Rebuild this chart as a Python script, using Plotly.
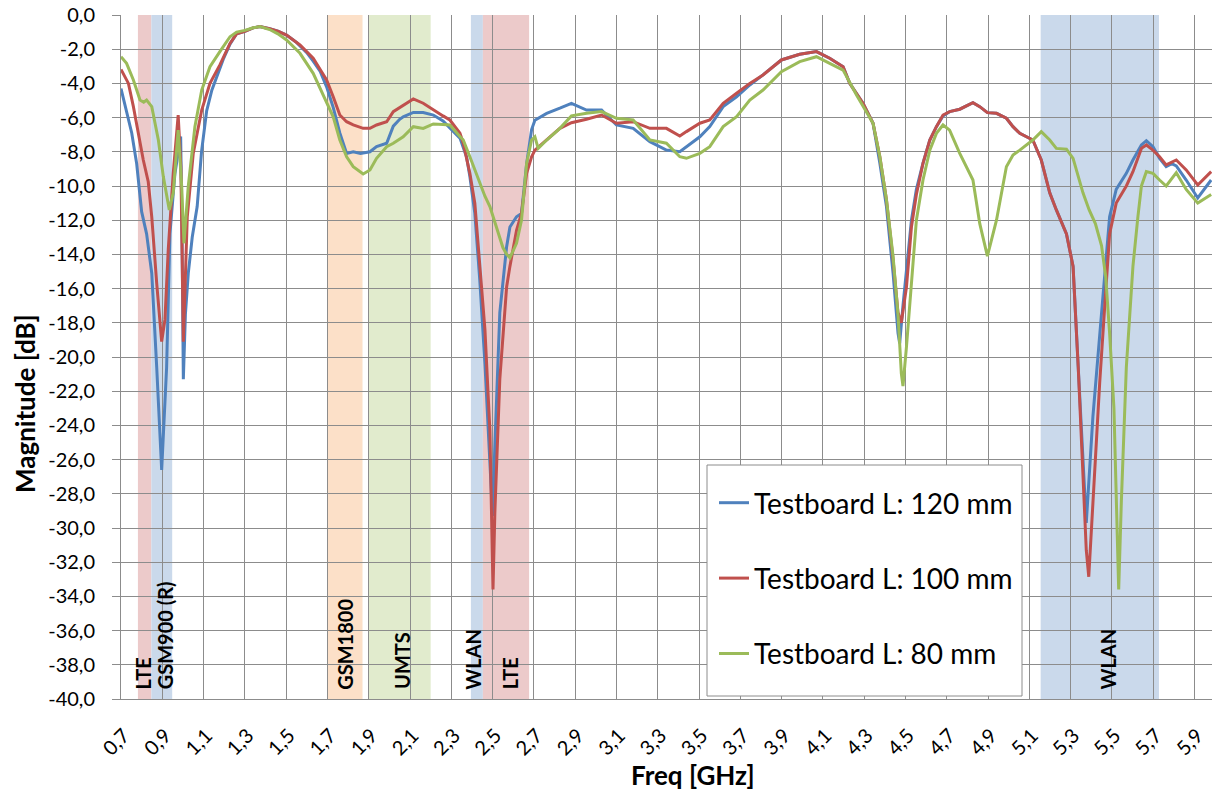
import plotly.graph_objects as go

# ---------------- data ----------------
freq_120 = [0.700, 0.725, 0.752, 0.776, 0.800, 0.824, 0.849, 0.873, 0.897, 0.921, 0.937, 0.961, 0.980, 0.989,
            0.995, 1.002, 1.012, 1.026, 1.045, 1.069, 1.090, 1.115, 1.140, 1.163, 1.195, 1.228, 1.260, 1.300,
            1.340, 1.373, 1.420, 1.460, 1.502, 1.550, 1.600, 1.631, 1.665, 1.696, 1.728, 1.760, 1.793, 1.825,
            1.860, 1.906, 1.938, 1.987, 2.019, 2.050, 2.067, 2.116, 2.164, 2.213, 2.260, 2.293, 2.342, 2.374,
            2.390, 2.414, 2.438, 2.463, 2.487, 2.500, 2.511, 2.535, 2.568, 2.584, 2.616, 2.640, 2.665, 2.689,
            2.705, 2.762, 2.826, 2.882, 2.955, 3.028, 3.100, 3.181, 3.262, 3.342, 3.407, 3.439, 3.504, 3.552,
            3.617, 3.682, 3.746, 3.810, 3.899, 3.988, 4.069, 4.133, 4.198, 4.230, 4.263, 4.295, 4.343, 4.376,
            4.408, 4.440, 4.464, 4.472, 4.488, 4.505, 4.529, 4.553, 4.585, 4.618, 4.650, 4.682, 4.714, 4.763,
            4.827, 4.860, 4.897, 4.941, 4.989, 5.021, 5.054, 5.117, 5.158, 5.199, 5.231, 5.280, 5.312, 5.337,
            5.360, 5.376, 5.408, 5.441, 5.465, 5.489, 5.521, 5.546, 5.570, 5.602, 5.643, 5.667, 5.699, 5.731,
            5.763, 5.790, 5.812, 5.860, 5.916, 5.981]
mag_120 = [-4.3, -5.6, -6.9, -8.7, -11.5, -12.8, -15.1, -20.6, -26.6, -20.6, -12.8, -9.3, -7.6, -7.1,
           -12.0, -21.3, -17.5, -15.1, -13.0, -11.2, -8.0, -5.6, -4.4, -3.6, -2.6, -1.7, -1.1, -0.95,
           -0.75, -0.68, -0.8, -0.95, -1.17, -1.6, -2.2, -2.7, -3.3, -4.2, -5.4, -6.9, -8.1, -8.0,
           -8.1, -8.0, -7.7, -7.5, -6.5, -6.1, -5.95, -5.7, -5.7, -5.85, -6.2, -6.6, -7.2, -8.3,
           -9.45, -11.6, -15.5, -20.4, -26.2, -29.3, -25.2, -17.4, -13.55, -12.4, -11.8, -11.6, -8.7, -6.7,
           -6.15, -5.75, -5.45, -5.17, -5.56, -5.56, -6.43, -6.63, -7.41, -7.9, -7.99, -7.7, -7.12, -6.53,
           -5.36, -4.78, -4.09, -3.5, -2.63, -2.3, -2.14, -2.53, -3.02, -4.0, -4.6, -5.17, -6.33, -8.67,
           -11.2, -15.1, -18.6, -19.2, -17.0, -14.9, -12.0, -10.2, -8.67, -7.31, -6.53, -5.9, -5.65, -5.51,
           -5.13, -5.36, -5.71, -5.75, -6.04, -6.53, -6.92, -7.31, -8.48, -10.4, -11.4, -12.8, -14.7, -20.6,
           -26.4, -29.7, -23.5, -18.6, -15.1, -11.8, -10.2, -9.75, -9.26, -8.48, -7.6, -7.35, -7.7, -8.38,
           -8.87, -8.7, -8.83, -9.65, -10.7, -9.65]

freq_100 = [0.700, 0.736, 0.760, 0.784, 0.808, 0.832, 0.849, 0.873, 0.897, 0.913, 0.929, 0.953, 0.970, 0.977,
            0.990, 1.002, 1.021, 1.050, 1.091, 1.131, 1.179, 1.228, 1.260, 1.300, 1.340, 1.373, 1.420, 1.460,
            1.502, 1.567, 1.631, 1.696, 1.728, 1.760, 1.793, 1.825, 1.873, 1.906, 1.938, 1.987, 2.019, 2.067,
            2.116, 2.164, 2.213, 2.260, 2.293, 2.342, 2.358, 2.390, 2.414, 2.438, 2.463, 2.487, 2.502, 2.511,
            2.535, 2.568, 2.584, 2.616, 2.640, 2.665, 2.689, 2.705, 2.762, 2.826, 2.882, 2.955, 3.028, 3.100,
            3.181, 3.262, 3.342, 3.407, 3.439, 3.504, 3.552, 3.617, 3.682, 3.746, 3.810, 3.899, 3.988, 4.069,
            4.133, 4.198, 4.230, 4.263, 4.295, 4.343, 4.376, 4.408, 4.440, 4.464, 4.480, 4.505, 4.529, 4.553,
            4.585, 4.618, 4.650, 4.682, 4.714, 4.763, 4.827, 4.860, 4.897, 4.941, 4.989, 5.021, 5.054, 5.117,
            5.158, 5.199, 5.231, 5.280, 5.312, 5.337, 5.360, 5.376, 5.388, 5.408, 5.441, 5.465, 5.489, 5.521,
            5.546, 5.570, 5.602, 5.643, 5.667, 5.699, 5.731, 5.763, 5.812, 5.860, 5.916, 5.981]
mag_100 = [-3.18, -4.0, -5.36, -6.92, -8.48, -9.75, -11.8, -15.7, -19.1, -17.8, -13.7, -9.26, -7.0, -5.85,
           -8.87, -19.1, -11.8, -8.09, -5.56, -4.0, -2.92, -1.66, -1.1, -0.95, -0.75, -0.68, -0.8, -0.95,
           -1.17, -1.75, -2.53, -3.8, -4.78, -5.85, -6.24, -6.43, -6.63, -6.63, -6.43, -6.24, -5.65, -5.26,
           -4.91, -5.16, -5.56, -5.9, -6.14, -6.92, -7.5, -9.26, -11.0, -14.5, -18.4, -24.3, -33.6, -29.1,
           -21.3, -15.9, -14.7, -12.6, -11.6, -9.26, -8.29, -7.9, -7.31, -6.63, -6.3, -6.1, -5.85, -6.33,
           -6.24, -6.63, -6.63, -7.08, -6.82, -6.33, -6.14, -5.17, -4.58, -4.0, -3.51, -2.63, -2.3, -2.14,
           -2.53, -3.02, -4.0, -4.58, -5.17, -6.33, -8.29, -10.8, -14.3, -17.4, -18.0, -15.9, -12.4, -10.5,
           -8.67, -7.31, -6.53, -5.85, -5.65, -5.51, -5.13, -5.36, -5.71, -5.75, -6.04, -6.53, -6.92, -7.31,
           -8.48, -10.4, -11.4, -12.8, -14.7, -20.6, -26.4, -31.3, -32.85, -28.4, -21.5, -17.1, -12.8, -11.0,
           -10.5, -10.0, -9.16, -7.8, -7.6, -7.9, -8.29, -8.77, -8.48, -9.06, -9.94, -9.16]

freq_80 = [0.700, 0.727, 0.760, 0.792, 0.810, 0.824, 0.849, 0.881, 0.905, 0.934, 0.953, 0.977, 0.994, 1.005,
           1.026, 1.058, 1.091, 1.131, 1.179, 1.228, 1.260, 1.300, 1.340, 1.373, 1.420, 1.460, 1.502, 1.567,
           1.631, 1.696, 1.728, 1.760, 1.793, 1.825, 1.873, 1.906, 1.938, 1.987, 2.019, 2.067, 2.116, 2.164,
           2.213, 2.260, 2.293, 2.342, 2.358, 2.390, 2.414, 2.438, 2.463, 2.487, 2.520, 2.550, 2.568, 2.584,
           2.616, 2.640, 2.665, 2.689, 2.705, 2.721, 2.762, 2.826, 2.882, 2.955, 3.028, 3.100, 3.181, 3.262,
           3.342, 3.407, 3.439, 3.504, 3.552, 3.617, 3.682, 3.746, 3.810, 3.899, 3.988, 4.069, 4.133, 4.198,
           4.263, 4.343, 4.376, 4.408, 4.440, 4.464, 4.480, 4.488, 4.505, 4.529, 4.553, 4.585, 4.618, 4.650,
           4.682, 4.714, 4.763, 4.827, 4.860, 4.897, 4.941, 4.989, 5.021, 5.054, 5.117, 5.158, 5.199, 5.231,
           5.280, 5.312, 5.337, 5.360, 5.390, 5.420, 5.450, 5.470, 5.489, 5.510, 5.533, 5.546, 5.570, 5.602,
           5.626, 5.643, 5.667, 5.699, 5.731, 5.763, 5.812, 5.860, 5.916, 5.981]
mag_80 = [-2.44, -2.83, -3.8, -4.97, -5.1, -4.97, -5.36, -7.31, -9.45, -11.4, -10.4, -6.73, -10.0, -13.35,
          -10.0, -6.53, -4.39, -3.02, -2.14, -1.27, -1.0, -0.9, -0.75, -0.68, -0.85, -1.1, -1.46, -2.24,
          -3.41, -5.17, -5.95, -7.31, -8.29, -8.87, -9.3, -9.06, -8.38, -7.7, -7.5, -7.12, -6.53, -6.63,
          -6.37, -6.4, -6.43, -7.1, -7.31, -8.29, -9.06, -9.84, -10.6, -11.2, -12.5, -13.6, -14.0, -14.2,
          -13.35, -12.0, -8.67, -7.31, -7.12, -7.8, -7.31, -6.63, -5.9, -5.75, -5.65, -6.04, -6.14, -7.31,
          -7.5, -8.29, -8.38, -8.09, -7.7, -6.53, -5.95, -4.97, -4.39, -3.31, -2.73, -2.44, -2.83, -3.22,
          -4.68, -6.33, -8.29, -10.8, -14.1, -17.5, -20.95, -21.7, -19.4, -15.5, -12.0, -9.65, -7.9, -6.92,
          -6.43, -6.73, -8.09, -9.65, -12.2, -14.1, -12.0, -8.87, -8.19, -7.9, -7.31, -6.82, -7.31, -7.8,
          -7.85, -8.38, -9.4, -10.4, -11.4, -12.2, -13.5, -15.3, -18.6, -23.0, -33.6, -28.4, -20.6, -14.7,
          -11.8, -10.0, -9.16, -9.26, -9.65, -10.0, -9.22, -10.2, -11.0, -10.5]

series_names = ["Testboard L: 120 mm", "Testboard L: 100 mm", "Testboard L: 80 mm"]
series_colors = ["#4F81BD", "#C0504D", "#9BBB59"]

# frequency bands (GHz)
band_names = ["LTE", "GSM900 (R)", "GSM1800", "UMTS", "WLAN", "LTE", "WLAN"]
band_start = [0.782, 0.847, 1.699, 1.898, 2.395, 2.453, 5.155]
band_end = [0.847, 0.948, 1.870, 2.200, 2.453, 2.677, 5.728]
band_label_x = [0.807, 0.913, 1.785, 2.062, 2.405, 2.584, 5.480]
band_colors = ["#ECCACA", "#CAD9EB", "#FCE0C8", "#E1EBCD", "#CAD9EB", "#ECCACA", "#CAD9EB"]

x_tick_vals = [round(0.7 + 0.2 * i, 1) for i in range(27)]
x_tick_text = [f"{v:.1f}".replace(".", ",") for v in x_tick_vals]
y_tick_vals = [-2 * i for i in range(21)]
y_tick_text = [f"{v:.1f}".replace(".", ",") for v in y_tick_vals]

FONT = "Lato, 'Open Sans', sans-serif"

PL, PR, PT, PB = 121, 0, 15, 95
W, H = 1212, 794
pw, ph = W - PL - PR, H - PT - PB


def px_to_paper(xp, yp):
    return (xp - PL) / pw, (H - PB - yp) / ph


fig = go.Figure()
for name, color, fx, my in zip(series_names, series_colors,
                               [freq_120, freq_100, freq_80], [mag_120, mag_100, mag_80]):
    fig.add_trace(go.Scatter(x=fx, y=my, mode="lines", name=name, legendgroup=name,
                             line=dict(color=color, width=3)))

shapes = []
for x0, x1, c in zip(band_start, band_end, band_colors):
    shapes.append(dict(type="rect", xref="x", yref="y", x0=x0, x1=x1, y0=-40, y1=0,
                       fillcolor=c, line=dict(width=0), layer="below"))

# legend frame (white box with grey border, as in the reference)
bx0, by0 = px_to_paper(707, 696)
bx1, by1 = px_to_paper(1022, 465)
shapes.append(dict(type="rect", xref="paper", yref="paper", x0=bx0, x1=bx1, y0=by0, y1=by1,
                   fillcolor="white", line=dict(color="#8c8c8c", width=1), layer="above"))

annotations = []
for name, xl in zip(band_names, band_label_x):
    annotations.append(dict(x=xl, y=-39.55, xref="x", yref="y", text=f"<b>{name}</b>",
                            textangle=-90, showarrow=False, xanchor="center", yanchor="bottom",
                            font=dict(family=FONT, size=20, color="black")))
tx, ty = px_to_paper(25, 404)
annotations.append(dict(x=tx, y=ty, xref="paper", yref="paper", text="<b>Magnitude [dB]</b>",
                        showarrow=False, textangle=-90, xanchor="center", yanchor="middle",
                        font=dict(family=FONT, size=26, color="black")))
tx, ty = px_to_paper(693, 775)
annotations.append(dict(x=tx, y=ty, xref="paper", yref="paper", text="<b>Freq [GHz]</b>",
                        showarrow=False, xanchor="center", yanchor="middle",
                        font=dict(family=FONT, size=26, color="black")))

lx, ly = px_to_paper(714, 478)
fig.update_layout(
    width=W, height=H,
    margin=dict(l=PL, r=PR, t=PT, b=PB, autoexpand=False),
    paper_bgcolor="white", plot_bgcolor="white",
    font=dict(family=FONT, size=20, color="black"),
    shapes=shapes, annotations=annotations,
    showlegend=True,
    legend=dict(x=lx, y=ly, xanchor="left", yanchor="top",
                bgcolor="rgba(0,0,0,0)", borderwidth=0,
                font=dict(family=FONT, size=28, color="black"), tracegroupgap=36),
)
fig.update_xaxes(range=[0.7, 5.985], tickmode="array", tickvals=x_tick_vals, ticktext=x_tick_text,
                 tickangle=-45, showgrid=True, gridcolor="#8c8c8c", gridwidth=1, automargin=False,
                 showline=True, linecolor="#8c8c8c", linewidth=1, ticks="", zeroline=False,
                 ticklabelstandoff=16, ticklabelshift=3,
                 tickfont=dict(family=FONT, size=20))
fig.update_yaxes(range=[-40, 0], tickmode="array", tickvals=y_tick_vals, ticktext=y_tick_text,
                 showgrid=True, gridcolor="#8c8c8c", gridwidth=1, showline=True, linecolor="#8c8c8c",
                 linewidth=1, ticks="outside", ticklen=8, tickcolor="#8c8c8c", zeroline=False,
                 ticklabelstandoff=13,
                 automargin=False, tickfont=dict(family=FONT, size=20))

fig.write_html("out.html", config={"displayModeBar": False},
               post_script="document.body.style.margin='0px';")
